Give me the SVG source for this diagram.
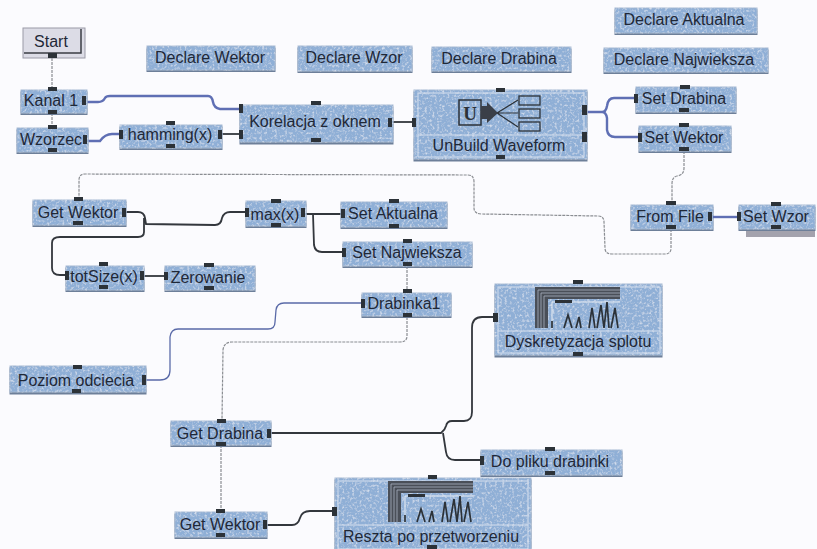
<svg xmlns="http://www.w3.org/2000/svg" xmlns:xlink="http://www.w3.org/1999/xlink" width="817" height="549" viewBox="0 0 817 549">
<style>
.n{fill:#8fafd6;stroke:#a4b8d2;stroke-width:1;filter:url(#tex)}
.d{fill:none;stroke:#d5dfee;stroke-width:1}
.t{font-family:"Liberation Sans",Arial,sans-serif;font-size:16px;fill:#1f2837;text-anchor:middle}
.p{fill:#2c3238}
.blue{fill:none;stroke:#5f6fb4;stroke-width:2.4}
.blk{fill:none;stroke:#33373d;stroke-width:1.8}
.blu1{fill:none;stroke:#5a6aa8;stroke-width:1.3}
.gr{fill:none;stroke:#8a8d92;stroke-width:1.2;stroke-dasharray:3 1}
</style>
<defs>
<filter id="tex" x="-3%" y="-8%" width="106%" height="116%">
<feTurbulence type="fractalNoise" baseFrequency="0.4" numOctaves="2" seed="4" result="t"/>
<feColorMatrix in="t" type="matrix" values="0 0 0 0 1  0 0 0 0 1  0 0 0 0 1  1.4 0 0 0 -0.68" result="w"/>
<feComposite in="w" in2="SourceGraphic" operator="in" result="wc"/>
<feOffset in="SourceAlpha" dy="1.5" result="o"/>
<feFlood flood-color="#6d7f99"/>
<feComposite in2="o" operator="in" result="s"/>
<feMerge><feMergeNode in="s"/><feMergeNode in="SourceGraphic"/><feMergeNode in="wc"/></feMerge>
</filter>
<g id="chart">
<path d="M535 287H620V299H548V328H535Z" fill="#4a4f58"/>
<path d="M538 328V290H620M541 328V293H620M544 328V296H620" fill="none" stroke="#aab3c2" stroke-width="0.8"/>
<path d="M552 329V302H620" fill="none" stroke="#e8edf4" stroke-width="1"/>
<rect x="555" y="300" width="17" height="3" fill="#2c3238"/>
<path d="M552 328V321M564 328L568 315L572 328M576 328L579 317L581 328M589 328L592 308L595 328M597 328L601 305L604 328M604 328L607 302L609 328M611 328L615 308L618 328" fill="none" stroke="#2c3238" stroke-width="1.7"/>
</g>
</defs>
<rect width="817" height="549" fill="#fbfbfe"/>
<g id="connectors">
<path class="gr" d="M52 58V89M52 113V127"/>
<path class="blue" d="M86 102H98Q103 102 105 98Q106 96 110 96H208Q212 96 213 102Q214 108 220 109H239"/>
<path class="blue" d="M88 141H100Q105 134 112 134H120"/>
<path class="blk" stroke-width="2.4" d="M222 134H240"/>
<path class="blk" d="M393 122H414"/>
<path class="blue" d="M587 112H602Q606 112 607 106Q608 98 614 98H636M602 112Q606 112 607 118V130Q608 137 615 137H640"/>
<path class="gr" d="M684 151V168Q684 175 677 176Q672 177 672 184V204"/>
<path class="gr" d="M671 229V248Q671 254 665 254H612Q605 254 605 248L604 222Q604 216 598 216L482 214Q474 214 474 208V182Q474 175 468 175L85 174Q79 174 79 180V199"/>
<path class="blk" d="M126 212H138Q144 212 145 218L146 224L215 225Q221 225 222 218Q224 212 230 212H246M144 218V232Q144 237 138 237H60Q52 237 52 243V268Q52 275 60 275H67"/>
<path class="blk" d="M141 276H166"/>
<path class="blk" d="M306 214H343M313 214L314 245Q315 252 322 252H343"/>
<path class="gr" d="M407 266V291"/>
<path class="gr" d="M407 317V336Q407 342 400 342H232Q224 342 223 350L222 420"/>
<path class="blu1" d="M146 380H160Q170 380 170 370V337Q171 329 178 329H268Q275 329 275 322L276 310Q277 303 284 303H362"/>
<path class="blk" d="M271 433H441Q445 430 446 426Q447 421 452 421H464Q472 421 472 412V328Q472 317 482 317H495M443 433L446 452Q447 460 455 460H481"/>
<path class="gr" d="M221 445V511"/>
<path class="blk" d="M267 525H292Q298 525 300 518Q302 511 310 511H333"/>
</g>
<g id="start">
<rect x="23" y="28" width="62" height="30" fill="#dcdce6" stroke="#9a9aa6"/>
<path d="M81 29V53H24" fill="none" stroke="#3a3d44" stroke-width="1.5"/>
<text class="t" x="51" y="47">Start</text>
<rect class="p" x="48" y="53" width="9" height="5"/>
</g>
<g id="kanal1">
<rect class="n" x="21" y="90" width="66" height="23"/>
<text class="t" x="51" y="106">Kanal 1</text>
<rect class="p" x="48" y="87" width="9" height="4"/><rect class="p" x="48" y="110" width="9" height="4"/><rect class="p" x="82" y="96" width="4" height="9"/>
</g>
<g id="wzorzec">
<rect class="n" x="17" y="128" width="71" height="24"/>
<text class="t" x="51" y="145">Wzorzec</text>
<rect class="p" x="48" y="125" width="9" height="4"/><rect class="p" x="48" y="148" width="9" height="4"/><rect class="p" x="83" y="135" width="4" height="9"/>
</g>
<g id="hamming">
<rect class="n" x="120" y="125" width="102" height="23"/>
<text class="t" x="170" y="140">hamming(x)</text>
<rect class="p" x="166" y="121" width="9" height="4"/><rect class="p" x="166" y="144" width="9" height="4"/><rect class="p" x="119" y="130" width="4" height="9"/><rect class="p" x="218" y="130" width="4" height="9"/>
</g>
<g id="korelacja">
<rect class="n" x="240" y="105" width="153" height="37"/>
<text class="t" x="315" y="127">Korelacja z oknem</text>
<rect class="p" x="311" y="101" width="10" height="4"/><rect class="p" x="311" y="138" width="10" height="4"/><rect class="p" x="239" y="104" width="4" height="9"/><rect class="p" x="239" y="130" width="4" height="9"/><rect class="p" x="388" y="118" width="4" height="9"/>
</g>
<g id="declare-wektor">
<rect class="n" x="147" y="46" width="128" height="24"/>
<text class="t" x="210" y="63">Declare Wektor</text>
</g>
<g id="declare-wzor">
<rect class="n" x="298" y="46" width="114" height="25"/>
<text class="t" x="354" y="63">Declare Wzor</text>
</g>
<g id="declare-drabina">
<rect class="n" x="432" y="47" width="139" height="24"/>
<text class="t" x="499" y="64">Declare Drabina</text>
</g>
<g id="declare-aktualna">
<rect class="n" x="615" y="8" width="142" height="25"/>
<text class="t" x="684" y="25">Declare Aktualna</text>
</g>
<g id="declare-najwieksza">
<rect class="n" x="604" y="48" width="164" height="24"/>
<text class="t" x="684" y="65">Declare Najwieksza</text>
</g>
<g id="unbuild">
<rect class="n" x="414" y="90" width="173" height="69"/>
<path class="d" d="M418 93H584V135H418ZM418 135V157H584V135"/>
<text class="t" x="499" y="151">UnBuild Waveform</text>
<g fill="none" stroke="#2c3238">
<rect x="459" y="100" width="22" height="25" stroke-width="1.5"/>
<rect x="519" y="96" width="21" height="9" stroke-width="1.3"/><rect x="519" y="109" width="21" height="9" stroke-width="1.3"/><rect x="519" y="122" width="21" height="9" stroke-width="1.3"/>
<path d="M497 113L518 100M497 113H518M497 113L518 127" stroke-width="1.2"/>
</g>
<path d="M481 106H487V102L498 113L487 123V119H481Z" fill="#3a3f48"/>
<text x="470" y="120" font-family="Liberation Serif,serif" font-size="19" font-weight="bold" fill="#2c3238" text-anchor="middle">U</text>
<rect class="p" x="496" y="88" width="9" height="4"/><rect class="p" x="496" y="155" width="9" height="4"/><rect class="p" x="412" y="118" width="4" height="9"/><rect class="p" x="582" y="105" width="5" height="10"/><rect class="p" x="582" y="132" width="5" height="10"/>
</g>
<g id="set-drabina">
<rect class="n" x="636" y="87" width="100" height="25"/>
<text class="t" x="684" y="104">Set Drabina</text>
<rect class="p" x="680" y="85" width="10" height="4"/><rect class="p" x="679" y="108" width="10" height="4"/><rect class="p" x="634" y="94" width="4" height="9"/>
</g>
<g id="set-wektor">
<rect class="n" x="639" y="126" width="92" height="25"/>
<text class="t" x="684" y="143">Set Wektor</text>
<rect class="p" x="679" y="123" width="10" height="4"/><rect class="p" x="679" y="147" width="10" height="4"/><rect class="p" x="638" y="133" width="4" height="9"/>
</g>
<g id="from-file">
<rect class="n" x="631" y="205" width="82" height="24"/>
<text class="t" x="670" y="222">From File</text>
<rect class="p" x="666" y="201" width="10" height="4"/><rect class="p" x="666" y="225" width="10" height="4"/><rect class="p" x="708" y="212" width="4" height="9"/>
</g>
<path id="set-wzor-shadow" d="M746 230H815V237H746Z" fill="#a3a2ad"/>
<path class="blue" d="M713 217H739"/>
<g id="set-wzor">
<rect class="n" x="739" y="205" width="76" height="24"/>
<text class="t" x="776" y="222">Set Wzor</text>
<rect class="p" x="771" y="202" width="10" height="4"/><rect class="p" x="771" y="225" width="10" height="4"/><rect class="p" x="737" y="212" width="4" height="9"/>
</g>
<g id="get-wektor-1">
<rect class="n" x="33" y="200" width="93" height="25"/>
<text class="t" x="78" y="218">Get Wektor</text>
<rect class="p" x="74" y="197" width="9" height="4"/><rect class="p" x="73" y="221" width="10" height="4"/><rect class="p" x="122" y="208" width="4" height="9"/>
</g>
<g id="max">
<rect class="n" x="246" y="201" width="60" height="25"/>
<text class="t" x="275" y="220">max(x)</text>
<rect class="p" x="271" y="199" width="10" height="4"/><rect class="p" x="271" y="223" width="10" height="4"/><rect class="p" x="245" y="208" width="4" height="9"/><rect class="p" x="301" y="208" width="4" height="9"/>
</g>
<g id="set-aktualna">
<rect class="n" x="341" y="202" width="106" height="25"/>
<text class="t" x="393" y="219">Set Aktualna</text>
<rect class="p" x="389" y="199" width="10" height="4"/><rect class="p" x="389" y="224" width="10" height="4"/><rect class="p" x="341" y="209" width="4" height="9"/>
</g>
<g id="set-najwieksza">
<rect class="n" x="343" y="242" width="129" height="24"/>
<text class="t" x="407" y="258">Set Najwieksza</text>
<rect class="p" x="403" y="239" width="9" height="4"/><rect class="p" x="403" y="262" width="9" height="4"/><rect class="p" x="342" y="248" width="4" height="9"/>
</g>
<g id="totsize">
<rect class="n" x="66" y="266" width="78" height="24"/>
<text class="t" x="104" y="282">totSize(x)</text>
<rect class="p" x="99" y="262" width="9" height="4"/><rect class="p" x="99" y="285" width="9" height="4"/><rect class="p" x="65" y="271" width="4" height="9"/><rect class="p" x="140" y="271" width="4" height="9"/>
</g>
<g id="zerowanie">
<rect class="n" x="165" y="266" width="90" height="24"/>
<text class="t" x="208" y="283">Zerowanie</text>
<rect class="p" x="204" y="263" width="10" height="4"/><rect class="p" x="204" y="286" width="10" height="4"/><rect class="p" x="164" y="272" width="4" height="8"/>
</g>
<g id="drabinka1">
<rect class="n" x="362" y="293" width="89" height="23"/>
<text class="t" x="404" y="309">Drabinka1</text>
<rect class="p" x="403" y="289" width="9" height="4"/><rect class="p" x="403" y="313" width="9" height="4"/><rect class="p" x="361" y="299" width="4" height="9"/>
</g>
<g id="poziom">
<rect class="n" x="10" y="366" width="136" height="26"/>
<text class="t" x="76" y="386">Poziom odciecia</text>
<rect class="p" x="73" y="365" width="9" height="4"/><rect class="p" x="72" y="389" width="9" height="4"/><rect class="p" x="142" y="375" width="4" height="10"/>
</g>
<g id="get-drabina">
<rect class="n" x="171" y="421" width="100" height="24"/>
<text class="t" x="220" y="439">Get Drabina</text>
<rect class="p" x="217" y="419" width="9" height="4"/><rect class="p" x="216" y="442" width="10" height="4"/><rect class="p" x="267" y="429" width="4" height="9"/>
</g>
<g id="get-wektor-2">
<rect class="n" x="175" y="512" width="92" height="25"/>
<text class="t" x="220" y="530">Get Wektor</text>
<rect class="p" x="216" y="509" width="9" height="4"/><rect class="p" x="216" y="533" width="9" height="4"/><rect class="p" x="263" y="520" width="4" height="9"/>
</g>
<g id="dyskretyzacja">
<rect class="n" x="495" y="284" width="167" height="71"/>
<path class="d" d="M498 287H660V331H498ZM498 331V353H660V331"/>
<use href="#chart" xlink:href="#chart"/>
<text class="t" x="578" y="347">Dyskretyzacja splotu</text>
<rect class="p" x="573" y="280" width="10" height="4"/><rect class="p" x="573" y="352" width="10" height="4"/><rect class="p" x="493" y="313" width="5" height="9"/>
</g>
<g id="do-pliku">
<rect class="n" x="481" y="450" width="141" height="25"/>
<text class="t" x="550" y="467">Do pliku drabinki</text>
<rect class="p" x="545" y="447" width="10" height="4"/><rect class="p" x="545" y="471" width="10" height="4"/><rect class="p" x="480" y="456" width="4" height="9"/>
</g>
<g id="reszta">
<rect class="n" x="335" y="478" width="196" height="71"/>
<path class="d" d="M338 481H528V525H338ZM338 525V549H528V525"/>
<use href="#chart" xlink:href="#chart" transform="translate(-147 194)"/>
<text class="t" x="431" y="542">Reszta po przetworzeniu</text>
<rect class="p" x="428" y="475" width="9" height="4"/><rect class="p" x="427" y="545" width="10" height="4"/><rect class="p" x="332" y="507" width="5" height="9"/>
</g>
</svg>
